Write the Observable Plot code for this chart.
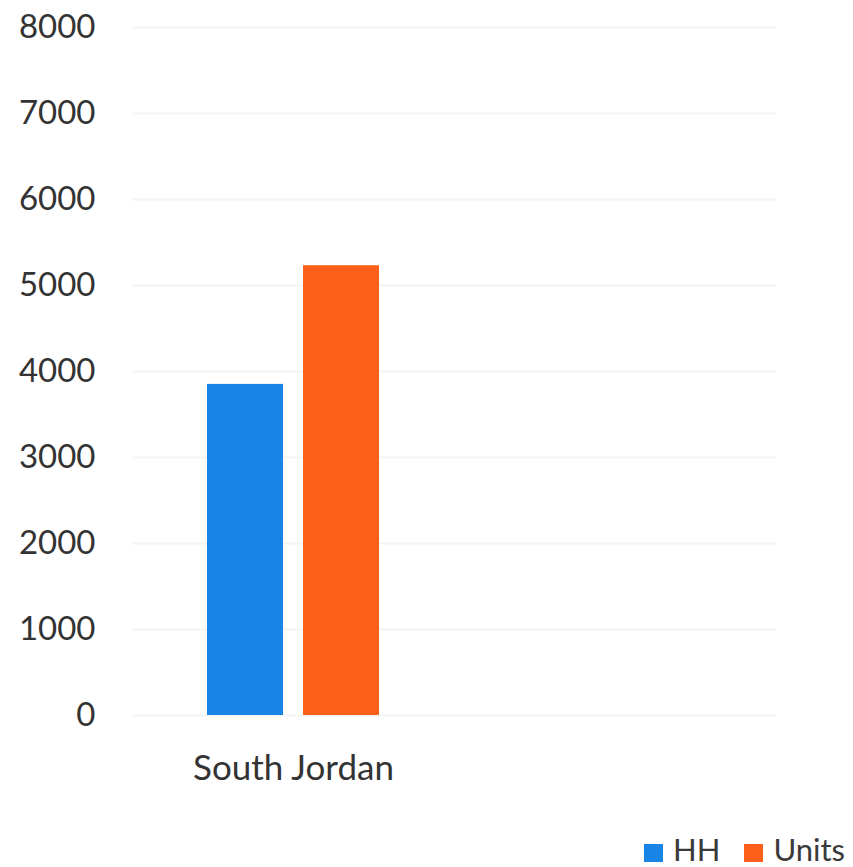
<!DOCTYPE html>
<html>
<head>
<meta charset="utf-8">
<script src="https://cdn.jsdelivr.net/npm/d3@7"></script>
<script src="https://cdn.jsdelivr.net/npm/@observablehq/plot@0.6"></script>
<style>
  html, body { margin: 0; padding: 0; background: #fff; }
  #wrap { width: 853px; height: 867px; position: relative; overflow: hidden; font-family: Lato, "Open Sans", sans-serif; }
  #legend { position: absolute; right: 8px; top: 834px; display: flex; align-items: center; font-size: 31px; line-height: 1; color: #3a3a3a; }
  .sw { display: inline-block; width: 19px; height: 18px; margin-right: 10px; position: relative; top: 3px; }
  .item { display: flex; align-items: center; margin-left: 24px; }
</style>
</head>
<body>
<div id="wrap"><div id="chart"></div><div id="legend"></div></div>
<script>
const categories = ["South Jordan"];
const series = ["HH", "Units"];
const values = [3850, 5230];
const colors = ["#1784E6", "#FE601B"];
const yTicks = [0, 1000, 2000, 3000, 4000, 5000, 6000, 7000, 8000];
const blankCategory = "(blank)";

const data = series.map((s, i) => ({category: categories[0], series: s, value: values[i]}));
const facetsAll = [categories[0], blankCategory];
const grid = facetsAll.flatMap(f => yTicks.map(t => ({f, t})));

const chart = Plot.plot({
  width: 853,
  height: 830,
  marginLeft: 132,
  marginRight: 77,
  marginTop: 27,
  marginBottom: 115,
  style: {fontFamily: "Lato, 'Open Sans', sans-serif", fontSize: "33px", color: "#333", background: "#fff"},
  fx: {domain: facetsAll, ticks: categories, paddingInner: 0, paddingOuter: 0, label: null,
       tickSize: 0, tickPadding: 40},
  x: {domain: series, paddingInner: 0.208, paddingOuter: 0.781, axis: null},
  y: {domain: [0, 8000], ticks: yTicks, tickSize: 0, tickPadding: 37, label: null, tickFormat: d3.format("d")},
  color: {domain: series, range: colors},
  marks: [
    Plot.ruleY(grid, {fx: "f", y: "t", stroke: "#f4f4f4", strokeWidth: 2}),
    Plot.barY(data, {fx: "category", x: "series", y: "value", fill: "series"})
  ]
});
chart.querySelectorAll("[aria-label='fx-axis tick label'] text").forEach(t => t.style.fontSize = "35px");
document.getElementById("chart").appendChild(chart);

const legend = document.getElementById("legend");
series.forEach((s, i) => {
  const it = document.createElement("div");
  it.className = "item";
  const sw = document.createElement("span");
  sw.className = "sw";
  sw.style.background = colors[i];
  it.appendChild(sw);
  it.appendChild(document.createTextNode(s));
  legend.appendChild(it);
});
</script>
</body>
</html>
